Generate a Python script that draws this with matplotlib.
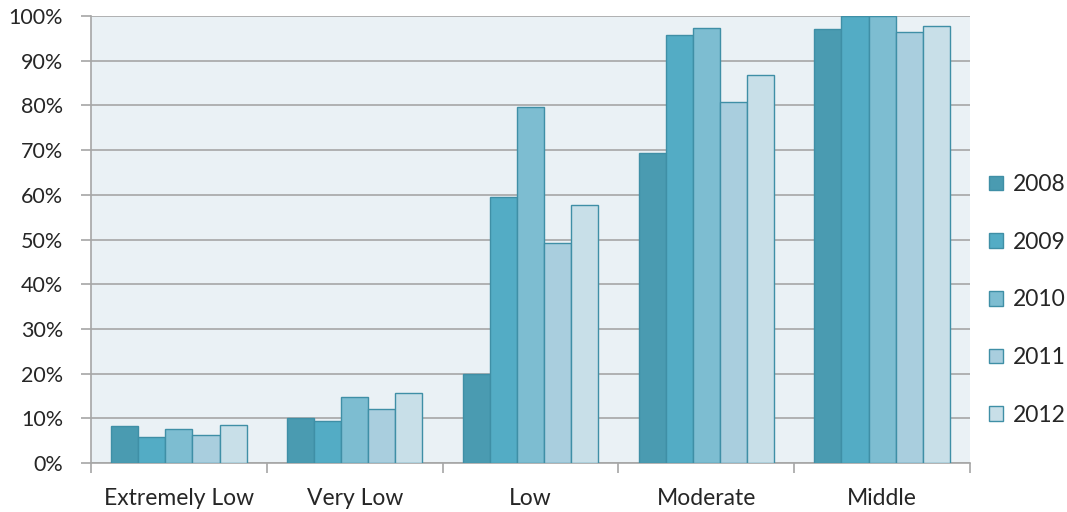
import matplotlib
matplotlib.use("Agg")
import matplotlib.pyplot as plt
import numpy as np
from matplotlib.ticker import PercentFormatter
from matplotlib.patches import Patch

categories = ["Extremely Low", "Very Low", "Low", "Moderate", "Middle"]
years = ["2008", "2009", "2010", "2011", "2012"]
values = {
    "2008": [8.3, 10.0, 19.9, 69.3, 97.1],
    "2009": [5.9, 9.4, 59.5, 95.7, 100.0],
    "2010": [7.6, 14.8, 79.6, 97.4, 100.0],
    "2011": [6.2, 12.0, 49.2, 80.8, 96.5],
    "2012": [8.5, 15.7, 57.8, 86.8, 97.8],
}
colors = ["#4A9BB1", "#53ACC5", "#7DBDD1", "#A9CEDE", "#C8DFE8"]
edge = "#3F8FA6"

plt.rcParams["font.family"] = ["Lato", "DejaVu Sans"]

fig = plt.figure(figsize=(10.67, 5.12), dpi=100)
ax = fig.add_axes([91 / 1067, 1 - 463 / 512, (970 - 91) / 1067, (463 - 16) / 512])
ax.set_facecolor("#EAF1F5")

x = np.arange(len(categories))
group = 0.77
w = group / len(years)
for i, y in enumerate(years):
    ax.bar(x - group / 2 + w * (i + 0.5), values[y], width=w, color=colors[i],
           edgecolor=edge, linewidth=1.0, zorder=3)

ax.set_xlim(-0.5, len(categories) - 0.5)
ax.set_ylim(0, 100)
ax.set_yticks(np.arange(0, 101, 10))
ax.yaxis.set_major_formatter(PercentFormatter(decimals=0))
ax.grid(axis="y", color="#A6A6A6", linewidth=1.2, zorder=1)
ax.set_axisbelow(True)

ax.set_xticks(x)
ax.set_xticklabels(categories)
ax.set_xticks(np.arange(-0.5, len(categories)), minor=True)
ax.tick_params(axis="x", which="major", length=0, pad=18, labelsize=16.5, colors="#262626")
ax.tick_params(axis="x", which="minor", length=7, color="#A6A6A6", width=1.2)
ax.tick_params(axis="y", length=7, color="#A6A6A6", width=1.2, pad=13, labelsize=15.5,
               labelcolor="#262626")

for s in ["top", "right"]:
    ax.spines[s].set_visible(False)
for s in ["left", "bottom"]:
    ax.spines[s].set_color("#A6A6A6")
    ax.spines[s].set_linewidth(1.2)

handles = [Patch(facecolor=colors[i], edgecolor=edge, label=y) for i, y in enumerate(years)]
fig.legend(handles=handles, loc="center left", bbox_to_anchor=(989 / 1067, 1 - 300 / 512),
           frameon=False, fontsize=16.5, labelspacing=1.6, handlelength=0.6,
           handleheight=0.6, handletextpad=0.45, borderpad=0, borderaxespad=0,
           labelcolor="#262626")

fig.savefig("out.png", dpi=100, facecolor="white")
